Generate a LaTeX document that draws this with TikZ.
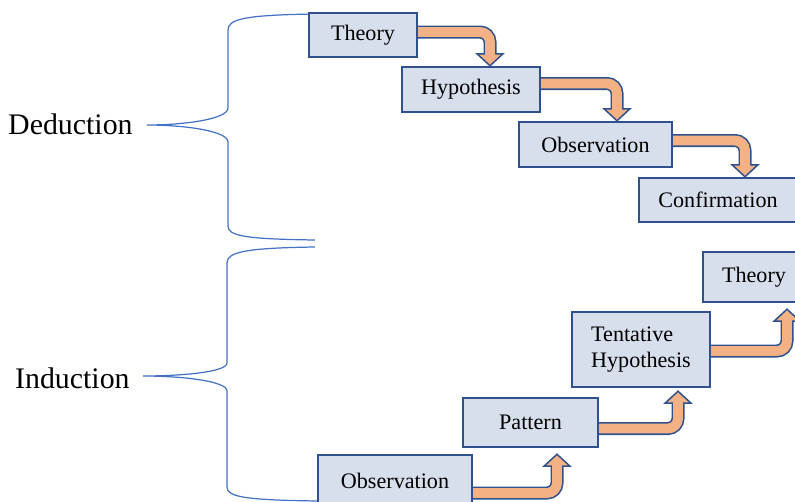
\documentclass[tikz,border=0pt]{standalone}
\usepackage{fontspec}
\setmainfont{Liberation Serif}
\usetikzlibrary{calc}

\definecolor{boxfill}{RGB}{215,222,236}
\definecolor{boxline}{RGB}{47,82,143}
\definecolor{arrowfill}{RGB}{244,177,131}
\definecolor{bracecol}{RGB}{68,114,196}

% bent block arrow: start, tip, direction (1 = down, -1 = up)
\newcommand{\bentarrow}[3]{%
    \coordinate (s) at (#1);
    \coordinate (t) at (#2);
    \coordinate (b) at ($(t)+(0,{-12*(#3)})$);
    \coordinate (e) at ($(b)+(0,{2*(#3)})$);
    \draw[shaftout] (s) -| (b);
    \filldraw[arrowhead] (t) -- ($(b)+(-13,0)$) -- ($(b)+(13,0)$) -- cycle;
    \draw[shaftin] (s) -| (e);
}

\begin{document}
\begin{tikzpicture}[x=0.02cm, y=-0.02cm,
        box/.style = {rectangle, draw=boxline, line width=1.4pt, fill=boxfill, align=center, inner sep=0pt, font=\fontsize{12.6}{14.7}\selectfont},
        shaftout/.style = {draw=boxline, line width=7.4pt, rounded corners=0.2cm},
        shaftin/.style = {draw=arrowfill, line width=5.6pt, rounded corners=0.2cm},
        arrowhead/.style = {fill=arrowfill, draw=boxline, line width=0.85pt, line join=miter},
        brace/.style = {draw=bracecol, line width=0.7pt},
        side/.style = {anchor=east, inner sep=0pt, font=\fontsize{17}{20}\selectfont}
    ]
    \clip (0,0) rectangle (795,501);

    % ================= TOP: DEDUCTION =================
    \node[side] (deduction) at (133,124) {Deduction};
    \draw[brace] (315,14) .. controls (245,15) and (228,19) .. (228,30) -- (228,108)
        .. controls (228,119) and (185,125) .. (147,125)
        .. controls (185,125) and (228,131) .. (228,142) -- (228,226)
        .. controls (228,236) and (245,239) .. (315,240);

    \node[box, minimum width=2.16cm, minimum height=0.88cm] (theory1) at (363,35) {Theory};
    \node[box, minimum width=2.76cm, minimum height=0.9cm] (hypothesis) at (471,89.5) {Hypothesis};
    \node[box, minimum width=3.06cm, minimum height=0.9cm] (observation1) at (595.5,144.5) {Observation};
    \node[box, minimum width=3.16cm, minimum height=0.88cm] (confirmation) at (718,200) {Confirmation};

    \bentarrow{$(theory1.east)+(0,-3)$}{$(hypothesis.north)+(19,0)$}{1}
    \bentarrow{$(hypothesis.east)+(0,-6)$}{$(observation1.north)+(21.5,0)$}{1}
    \bentarrow{$(observation1.east)+(0,-4)$}{$(confirmation.north)+(27,0)$}{1}

    % ================= BOTTOM: INDUCTION =================
    \node[side] (induction) at (130,378) {Induction};
    \draw[brace] (315,247) .. controls (245,248) and (227,252) .. (227,263) -- (227,363)
        .. controls (227,372) and (182,376) .. (143,376)
        .. controls (182,376) and (227,381) .. (227,391) -- (227,487)
        .. controls (227,497) and (245,500) .. (318,501);

    \node[box, minimum width=3.08cm, minimum height=1.04cm] (observation2) at (395,481) {Observation};
    \node[box, minimum width=2.7cm, minimum height=0.98cm] (pattern) at (530.5,422.5) {Pattern};
    \node[box, minimum width=2.76cm, minimum height=1.5cm, align=left] (tentative) at (641,349.5) {Tentative\\Hypothesis};
    \node[box, minimum width=2.04cm, minimum height=1.0cm] (theory2) at (754,277) {Theory};

    \bentarrow{$(observation2.east)+(0,12)$}{$(pattern.south)+(26.5,6)$}{-1}
    \bentarrow{$(pattern.east)+(0,6)$}{$(tentative.south)+(37,3)$}{-1}
    \bentarrow{$(tentative.east)+(0,1.5)$}{$(theory2.south)+(33,6)$}{-1}

\end{tikzpicture}
\end{document}
